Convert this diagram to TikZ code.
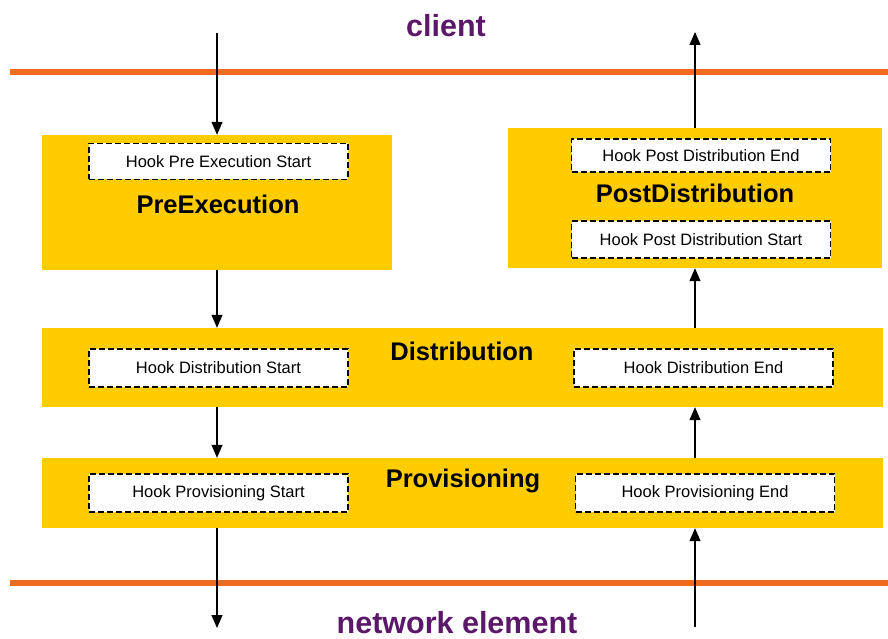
\documentclass[tikz,border=0pt]{standalone}
\usepackage{fontspec}
\setmainfont{Liberation Sans}
\usetikzlibrary{arrows.meta, positioning}
\definecolor{bandyellow}{RGB}{255,204,0}
\definecolor{lineorange}{RGB}{240,106,32}
\definecolor{sidepurple}{RGB}{92,24,104}

\begin{document}
\begin{tikzpicture}
  [x=1pt, y=-1pt,
  % phase
  phase/.style = {rectangle,
    fill=bandyellow,
    inner sep=0pt},
  % hook
  hook/.style = {rectangle,
    draw, fill=white, line width=1.1pt,
    dash pattern=on 6pt off 3pt,
    minimum width=259pt, minimum height=36pt,
    inner sep=0pt, font=\fontsize{16.5}{18}\selectfont},
  % titles
  title/.style = {anchor=base, font=\fontsize{25.5}{28}\selectfont\bfseries},
  side/.style = {anchor=base, text=sidepurple,
    font=\fontsize{30.5}{32}\selectfont\bfseries},
  % lines
  border/.style = {draw=lineorange, line width=6pt},
  line/.style = {draw, line width=1.2pt, -{Triangle[width=11pt,length=13pt]}},
  ]

  \useasboundingbox (0,0) rectangle (888,639);

  % borders
  \draw [border] (10,72) -- (888,72);
  \draw [border] (10,583) -- (888,583);
  \node [side] (client) at (446,37) {client};
  \node [side] (netel) at (457,633) {network element};

  % phases
  \node [phase, minimum width=350pt, minimum height=135pt] (preexec) at (217,202.5) {};
  \node [phase, minimum width=374pt, minimum height=140pt] (postdist) at (695,198) {};
  \node [phase, minimum width=841pt, minimum height=79pt] (dist) at (462.5,367.5) {};
  \node [phase, minimum width=841pt, minimum height=70pt] (prov) at (462.5,493) {};

  \node [title] (tpre) at (218,213) {PreExecution};
  \node [title] (tpost) at (695,203) {PostDistribution};
  \node [title] (tdist) at (462,360) {Distribution};
  \node [title] (tprov) at (463,487) {Provisioning};

  % hooks
  \node [hook] (hprestart) at (218.5,161.5) {Hook Pre Execution Start};
  \node [hook, minimum height=33pt] (hpostend) at (701,155.5) {Hook Post Distribution End};
  \node [hook, minimum height=37pt] (hpoststart) at (701,239.5) {Hook Post Distribution Start};
  \node [hook, minimum height=38pt] (hdiststart) at (218.5,368) {Hook Distribution Start};
  \node [hook, minimum height=38pt] (hdistend) at (703.5,368) {Hook Distribution End};
  \node [hook, minimum height=38pt] (hprovstart) at (218.5,493) {Hook Provisioning Start};
  \node [hook, minimum height=38pt] (hprovend) at (705,493) {Hook Provisioning End};

  % path
  \coordinate (cin) at (217,33);
  \coordinate (nout) at (217,628);
  \coordinate (nin) at (695,627);
  \coordinate (cout) at (695,32);

  \path [line] (cin) -- (preexec.north);
  \path [line] (preexec.south) -- (preexec.south |- dist.north);
  \path [line] (preexec.south |- dist.south) -- (preexec.south |- prov.north);
  \path [line] (preexec.south |- prov.south) -- (nout);

  \path [line] (nin) -- (postdist.south |- prov.south);
  \path [line] (postdist.south |- prov.north) -- (postdist.south |- dist.south);
  \path [line] (postdist.south |- dist.north) -- (postdist.south);
  \path [line] (postdist.north) -- (cout);

\end{tikzpicture}
\end{document}
